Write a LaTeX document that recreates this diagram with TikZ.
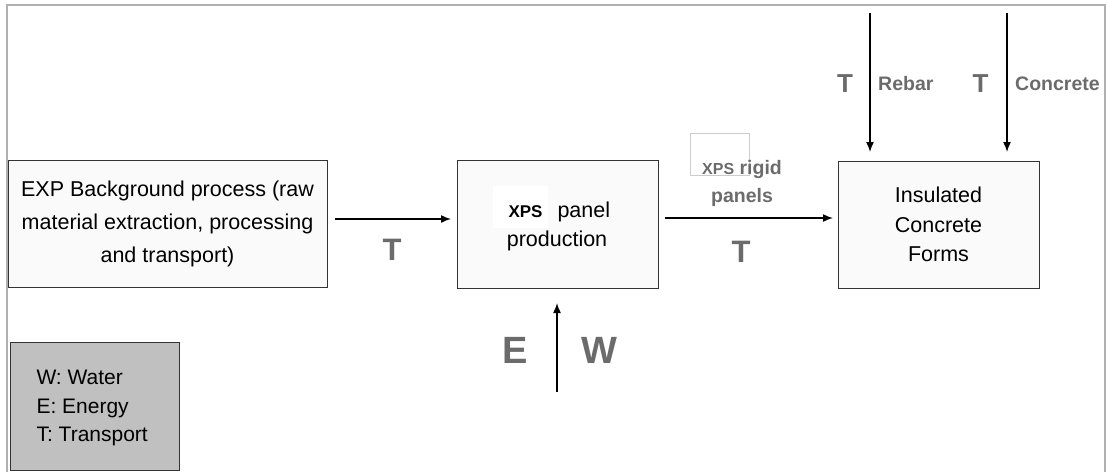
\documentclass[tikz,border=0pt]{standalone}
\usepackage{fontspec}
\setmainfont{Liberation Sans}
\usetikzlibrary{arrows.meta}
\definecolor{labelgrey}{HTML}{6B6B6B}
\definecolor{framegrey}{HTML}{B0B0B0}
\definecolor{boxfill}{HTML}{FAFAFA}
\definecolor{legendfill}{HTML}{C0C0C0}
\begin{document}
\begin{tikzpicture}[x=1pt,y=-1pt,
  procbox/.style={draw=black!80,line width=0.9pt,fill=boxfill,inner sep=0pt,
    align=center,font=\fontsize{21.5}{33}\selectfont},
  flow/.style={-{Latex[length=10pt,width=8pt]},line width=1.5pt},
  tlabel/.style={text=labelgrey,font=\bfseries\fontsize{31}{34}\selectfont},
  smalltlabel/.style={text=labelgrey,font=\bfseries\fontsize{26}{30}\selectfont},
  biglabel/.style={text=labelgrey,font=\bfseries\fontsize{38}{42}\selectfont},
  namelabel/.style={text=labelgrey,font=\bfseries\fontsize{19.5}{28}\selectfont,align=center}]
\useasboundingbox (0,0) rectangle (1107,472);
% outer frame (open at the bottom)
\draw[framegrey,line width=1.5pt] (7,472) -- (7,5) -- (1105,5) -- (1105,472);

% process boxes
\node[procbox,minimum width=319pt,minimum height=127pt] (exp) at (167.5,223.5)
  {EXP Background process (raw\\material extraction, processing\\and transport)};
\node[procbox,minimum width=201pt,minimum height=128pt] (xps) at (557.5,224) {};
\fill[white] (493,186) rectangle (548,228);
\node[font=\bfseries\fontsize{17}{20}\selectfont,anchor=base] (xpsword) at (525.5,217) {XPS};
\node[font=\fontsize{21.5}{24}\selectfont,anchor=base west] (panelword) at (554,217) {panel};
\node[font=\fontsize{21.5}{24}\selectfont,anchor=base] (prodword) at (557,246) {production};
\node[procbox,minimum width=201pt,minimum height=127pt,font=\fontsize{21.5}{29.5}\selectfont]
  (icf) at (938.5,224.5) {Insulated\\Concrete\\Forms};

% legend
\node[draw=black!80,line width=0.9pt,fill=legendfill,minimum width=169pt,minimum height=128pt,
  inner sep=0pt] (legend) at (94.5,406) {};
\node[align=left,anchor=west,font=\fontsize{21}{28.5}\selectfont] (legendtext) at (33,408)
  {W: Water\\E: Energy\\T: Transport};

% horizontal flows
\coordinate (a1s) at (335,219);
\coordinate (a1e) at (451,219);
\draw[flow] (a1s) -- (a1e);
\node[tlabel] (t1) at (392,250) {T};
\coordinate (a2s) at (665,218);
\coordinate (a2e) at (833,218);
\draw[flow] (a2s) -- (a2e);
\node[tlabel] (t2) at (741,252) {T};
\draw[black!20,line width=0.8pt] (690,133) rectangle (749,175);
\node[namelabel] (rigid) at (742,183) {\fontsize{16}{20}\selectfont XPS\fontsize{19.5}{28}\selectfont{} rigid\\panels};

% energy and water input
\coordinate (ews) at (557,392);
\coordinate (ewe) at (557,303);
\draw[flow] (ews) -- (ewe);
\node[biglabel] (e) at (515.5,350) {E};
\node[biglabel] (w) at (599,350) {W};

% rebar and concrete inputs
\coordinate (rbs) at (870,13);
\coordinate (rbe) at (870,152);
\draw[flow] (rbs) -- (rbe);
\node[smalltlabel] (t3) at (845,84) {T};
\node[namelabel,anchor=west,inner sep=0pt] (rebar) at (878,84) {Rebar};
\coordinate (cns) at (1007,13);
\coordinate (cne) at (1007,152);
\draw[flow] (cns) -- (cne);
\node[smalltlabel] (t4) at (980.5,84) {T};
\node[namelabel,anchor=west,inner sep=0pt] (concrete) at (1015,84) {Concrete};
\end{tikzpicture}
\end{document}
